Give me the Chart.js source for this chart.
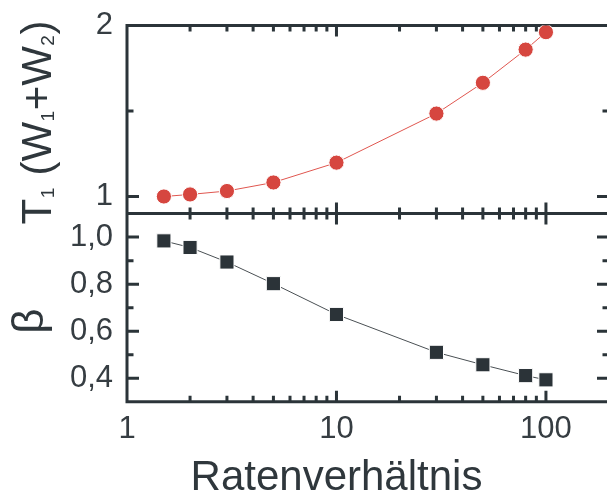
<!DOCTYPE html>
<html>
<head>
<meta charset="utf-8">
<script src="https://cdn.jsdelivr.net/npm/chart.js@4"></script>
<style>
  html, body { margin: 0; padding: 0; background: #ffffff; overflow: hidden; }
  #wrap { width: 607px; height: 497px; overflow: hidden; position: relative; }
  canvas { display: block; }
</style>
</head>
<body>
<div id="wrap"><canvas id="c" width="620" height="497"></canvas></div>
<script>
// ---- data ----
const ratio = [1.5, 2, 3, 5, 10, 30, 50, 80, 100];
const t1Values = [1.00, 1.012, 1.032, 1.082, 1.198, 1.485, 1.665, 1.859, 1.961];
const betaValues = [0.984, 0.956, 0.894, 0.802, 0.671, 0.510, 0.457, 0.411, 0.393];
const xTickValues = [1, 10, 100];
const t1TickValues = [1, 2];
const t1MinorTicks = [1.5];
const betaTickValues = [0.4, 0.6, 0.8, 1.0];
const betaMinorTicks = [0.5, 0.7, 0.9];
const xTitle = 'Ratenverhältnis';
const betaTitle = 'β';

const FRAME = '#2b3439';
const TEXT = '#363d42';
const FONT = '"Liberation Sans", Arial, sans-serif';

const noPad = s => { s.paddingTop = 0; s.paddingBottom = 0; s.paddingLeft = 0; s.paddingRight = 0; };

const framePlugin = {
  id: 'frame',
  beforeDatasetsDraw(chart) {
    const ctx = chart.ctx;
    const ca = chart.chartArea;
    const xs = chart.scales.x, yT = chart.scales.yT, yB = chart.scales.yB;
    const mid = yT.bottom;
    ctx.save();
    ctx.strokeStyle = FRAME;
    ctx.lineWidth = 3;
    ctx.lineCap = 'butt';
    ctx.beginPath();
    ctx.moveTo(ca.left, ca.top - 1.5); ctx.lineTo(ca.left, ca.bottom + 1.5);
    ctx.moveTo(ca.right, ca.top - 1.5); ctx.lineTo(ca.right, ca.bottom + 1.5);
    ctx.moveTo(ca.left, ca.top); ctx.lineTo(ca.right, ca.top);
    ctx.moveTo(ca.left, mid); ctx.lineTo(ca.right, mid);
    ctx.moveTo(ca.left, ca.bottom); ctx.lineTo(ca.right, ca.bottom);
    ctx.stroke();
    const MAJ = 11, MIN = 6;
    ctx.beginPath();
    [1, 10, 100].forEach(d => {
      for (let m = 1; m <= 9; m++) {
        const v = m * d;
        if (v <= xs.min || v >= xs.max) continue;
        const px = xs.getPixelForValue(v);
        const L = (m === 1) ? MAJ : MIN;
        ctx.moveTo(px, ca.top); ctx.lineTo(px, ca.top + L);
        ctx.moveTo(px, mid - L); ctx.lineTo(px, mid + L);
        ctx.moveTo(px, ca.bottom); ctx.lineTo(px, ca.bottom - L);
      }
    });
    const yTick = (scale, v, L) => {
      const py = scale.getPixelForValue(v);
      ctx.moveTo(ca.left, py); ctx.lineTo(ca.left + L, py);
      ctx.moveTo(ca.right, py); ctx.lineTo(ca.right - L, py);
    };
    t1TickValues.forEach(v => yTick(yT, v, 12));
    t1MinorTicks.forEach(v => yTick(yT, v, 6.5));
    betaTickValues.forEach(v => yTick(yB, v, 12));
    betaMinorTicks.forEach(v => yTick(yB, v, 6.5));
    ctx.stroke();
    ctx.restore();
  },
  afterDraw(chart) {
    const ctx = chart.ctx;
    ctx.save();
    ctx.fillStyle = '#2f373c';
    ctx.textBaseline = 'alphabetic';
    ctx.font = '42px ' + FONT;
    ctx.textAlign = 'center';
    ctx.fillText(xTitle, 336.5, 490);
    ctx.save();
    ctx.translate(43, 321);
    ctx.rotate(-Math.PI / 2);
    ctx.font = '44px ' + FONT;
    ctx.textAlign = 'center';
    ctx.fillText(betaTitle, 0, 0);
    ctx.restore();
    const segs = [
      ['T', false], ['1', true], [' (', false], ['W', false], ['1', true],
      ['+', false], ['W', false], ['2', true], [')', false]
    ];
    const mainFont = '42px ' + FONT, subFont = '19px ' + FONT;
    let total = 0;
    const widths = segs.map(([t, sub]) => {
      ctx.font = sub ? subFont : mainFont;
      const w = ctx.measureText(t).width + (sub ? 1 : 0);
      total += w;
      return w;
    });
    ctx.save();
    ctx.translate(50.5, 122.5);
    ctx.rotate(-Math.PI / 2);
    ctx.textAlign = 'left';
    let cx = -total / 2;
    segs.forEach(([t, sub], i) => {
      ctx.font = sub ? subFont : mainFont;
      ctx.fillText(t, cx + (sub ? 0.5 : 0), sub ? 3.5 : 0);
      cx += widths[i];
    });
    ctx.restore();
    ctx.restore();
  }
};

const tickFont = { family: FONT, size: 31 };

new Chart(document.getElementById('c'), {
  type: 'line',
  data: {
    datasets: [
      {
        label: 'T1 (W1+W2)',
        data: ratio.map((x, i) => ({ x: x, y: t1Values[i] })),
        xAxisID: 'x', yAxisID: 'yT',
        borderColor: '#e0564f', borderWidth: 1, tension: 0,
        pointStyle: 'circle', pointRadius: 7.6,
        pointBackgroundColor: '#d6463f', pointBorderColor: '#ffffff', pointBorderWidth: 1
      },
      {
        label: 'beta',
        data: ratio.map((x, i) => ({ x: x, y: betaValues[i] })),
        xAxisID: 'x', yAxisID: 'yB',
        borderColor: '#4a5054', borderWidth: 1, tension: 0,
        pointStyle: 'rect', pointRadius: 10,
        pointBackgroundColor: '#2b3338', pointBorderColor: '#ffffff', pointBorderWidth: 1
      }
    ]
  },
  options: {
    responsive: false,
    animation: false,
    events: [],
    layout: { padding: { top: 25.5, right: 8, bottom: 0, left: 0 } },
    plugins: { legend: { display: false }, tooltip: { enabled: false }, title: { display: false } },
    scales: {
      x: {
        type: 'logarithmic', position: 'bottom', min: 1, max: 200,
        afterBuildTicks: s => { s.ticks = xTickValues.map(v => ({ value: v })); },
        afterFit: s => { s.height = 95.3; noPad(s); },
        ticks: { autoSkip: false, maxRotation: 0, minRotation: 0, padding: 9, color: TEXT, font: tickFont,
                 callback: v => String(v) },
        grid: { display: false, drawTicks: false },
        border: { display: false }
      },
      yB: {
        type: 'linear', position: 'left', stack: 'panels', stackWeight: 1, weight: 1,
        min: 0.3, max: 1.1,
        afterBuildTicks: s => { s.ticks = betaTickValues.map(v => ({ value: v })); },
        afterFit: s => { s.width = 127; noPad(s); },
        ticks: { autoSkip: false, padding: 14, color: TEXT, font: tickFont,
                 callback: v => Number(v).toFixed(1).replace('.', ',') },
        grid: { display: false, drawTicks: false },
        border: { display: false }
      },
      yT: {
        type: 'linear', position: 'left', stack: 'panels', stackWeight: 1, weight: 2,
        min: 0.9, max: 2.0,
        afterBuildTicks: s => { s.ticks = t1TickValues.map(v => ({ value: v })); },
        afterFit: s => { s.width = 127; noPad(s); },
        ticks: { autoSkip: false, padding: 14, color: TEXT, font: tickFont,
                 callback: v => String(v) },
        grid: { display: false, drawTicks: false },
        border: { display: false }
      }
    }
  },
  plugins: [framePlugin]
});
</script>
</body>
</html>
